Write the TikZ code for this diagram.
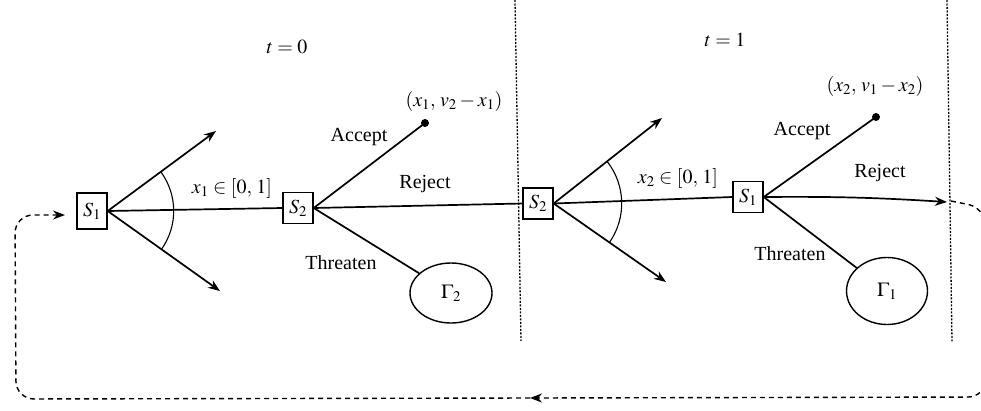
\documentclass[tikz,border=0pt]{standalone}
\usepackage{mathptmx}
\usepackage{fontspec}
\setmainfont{Liberation Serif}
\usetikzlibrary{arrows.meta,shapes.geometric}
\begin{document}
\begin{tikzpicture}[x=1pt,y=-1pt,
  every node/.style={font=\fontsize{20}{24}\selectfont, inner sep=1pt},
  sbox/.style={draw, line width=1.4pt, minimum width=30pt, minimum height=31pt, inner sep=0pt},
  branch/.style={line width=1.7pt},
  tip/.style={-{Stealth[length=12pt,width=9pt]}},
  oval/.style={draw, ellipse, line width=1.4pt, inner sep=0pt},
  loop/.style={line width=1.4pt, dash pattern=on 5pt off 4pt, rounded corners=18pt},
  sep/.style={line width=1.3pt, dash pattern=on 2pt off 1.5pt},
  dotend/.style={circle, fill, inner sep=0pt, minimum size=8pt},
  anglearc/.style={line width=1.1pt}]
\useasboundingbox (0,0) rectangle (981,410);

% period separators
\coordinate (sepAtop) at (515,0);
\coordinate (sepAbot) at (521,341);
\coordinate (sepBtop) at (947,0);
\coordinate (sepBbot) at (952,342);
\draw[sep] (sepAtop) -- (sepAbot);
\draw[sep] (sepBtop) -- (sepBbot);

% period labels
\node (t0) at (287,47) {$t=0$};
\node (t1) at (725,40) {$t=1$};

% decision nodes
\node[sbox, minimum height=36pt] (s1a) at (92,211) {$S_1$};
\node[sbox] (s2a) at (298,208) {$S_2$};
\node[sbox] (s2b) at (538,203.5) {$S_2$};
\node[sbox] (s1b) at (748,197) {$S_1$};

% outcome nodes
\node[oval, minimum width=82pt, minimum height=60pt] (g2) at (451,293) {$\Gamma_2$};
\node[oval, minimum width=81pt, minimum height=67pt] (g1) at (887,291) {$\Gamma_1$};
\node[dotend] (d1) at (425,123) {};
\node[dotend] (d2) at (876,117) {};

% free arrow ends
\coordinate (ua) at (216,131);
\coordinate (la) at (220,291);
\coordinate (ub) at (662,118);
\coordinate (lb) at (666,282);
\coordinate (rtip) at (947,202);

% t = 0 branches
\draw[branch, tip] (s1a.east) -- (ua);
\draw[branch, tip] (s1a.east) -- (la);
\draw[branch] (s1a.east) -- (s2a.west);
\draw[anglearc] ([shift={(-36:66)}]s1a.east) arc[start angle=-36, end angle=35.5, radius=66];
\draw[branch] (s2a.east) -- (d1.center);
\draw[branch] (s2a.east) -- (s2b.west);
\draw[branch] (s2a.east) -- (g2);

% t = 1 branches
\draw[branch, tip] (s2b.east) -- (ub);
\draw[branch, tip] (s2b.east) -- (lb);
\draw[branch] (s2b.east) -- (s1b.west);
\draw[anglearc] ([shift={(-38:68)}]s2b.east) arc[start angle=-38, end angle=34.6, radius=68];
\draw[branch] (s1b.east) -- (d2.center);
\draw[branch, tip] (s1b.east) to[bend left=2] (rtip);
\draw[branch] (s1b.east) -- (g1);

% labels
\node (x1) at (232,188) {$x_1\in[0,\,1]$};
\node (pay1) at (454,101) {$(x_1,\,v_2-x_1)$};
\node (acc1) at (359,137) {Accept};
\node (rej1) at (425,184) {Reject};
\node (thr1) at (341,263) {Threaten};
\node (x2) at (678,178) {$x_2\in[0,\,1]$};
\node (pay2) at (875,86) {$(x_2,\,v_1-x_2)$};
\node (acc2) at (802,131) {Accept};
\node (rej2) at (880,173) {Reject};
\node (thr2) at (790,254) {Threaten};

% dashed return loop
\coordinate (r0) at (951,201);
\coordinate (midarrow) at (530,398);
\coordinate (ltip) at (65,215);
\draw[loop, tip] (r0) -- (986,208) -- (986,397) -- (midarrow);
\draw[loop, tip] (midarrow) -- (16,399) -- (15,215) -- (ltip);
\end{tikzpicture}
\end{document}
